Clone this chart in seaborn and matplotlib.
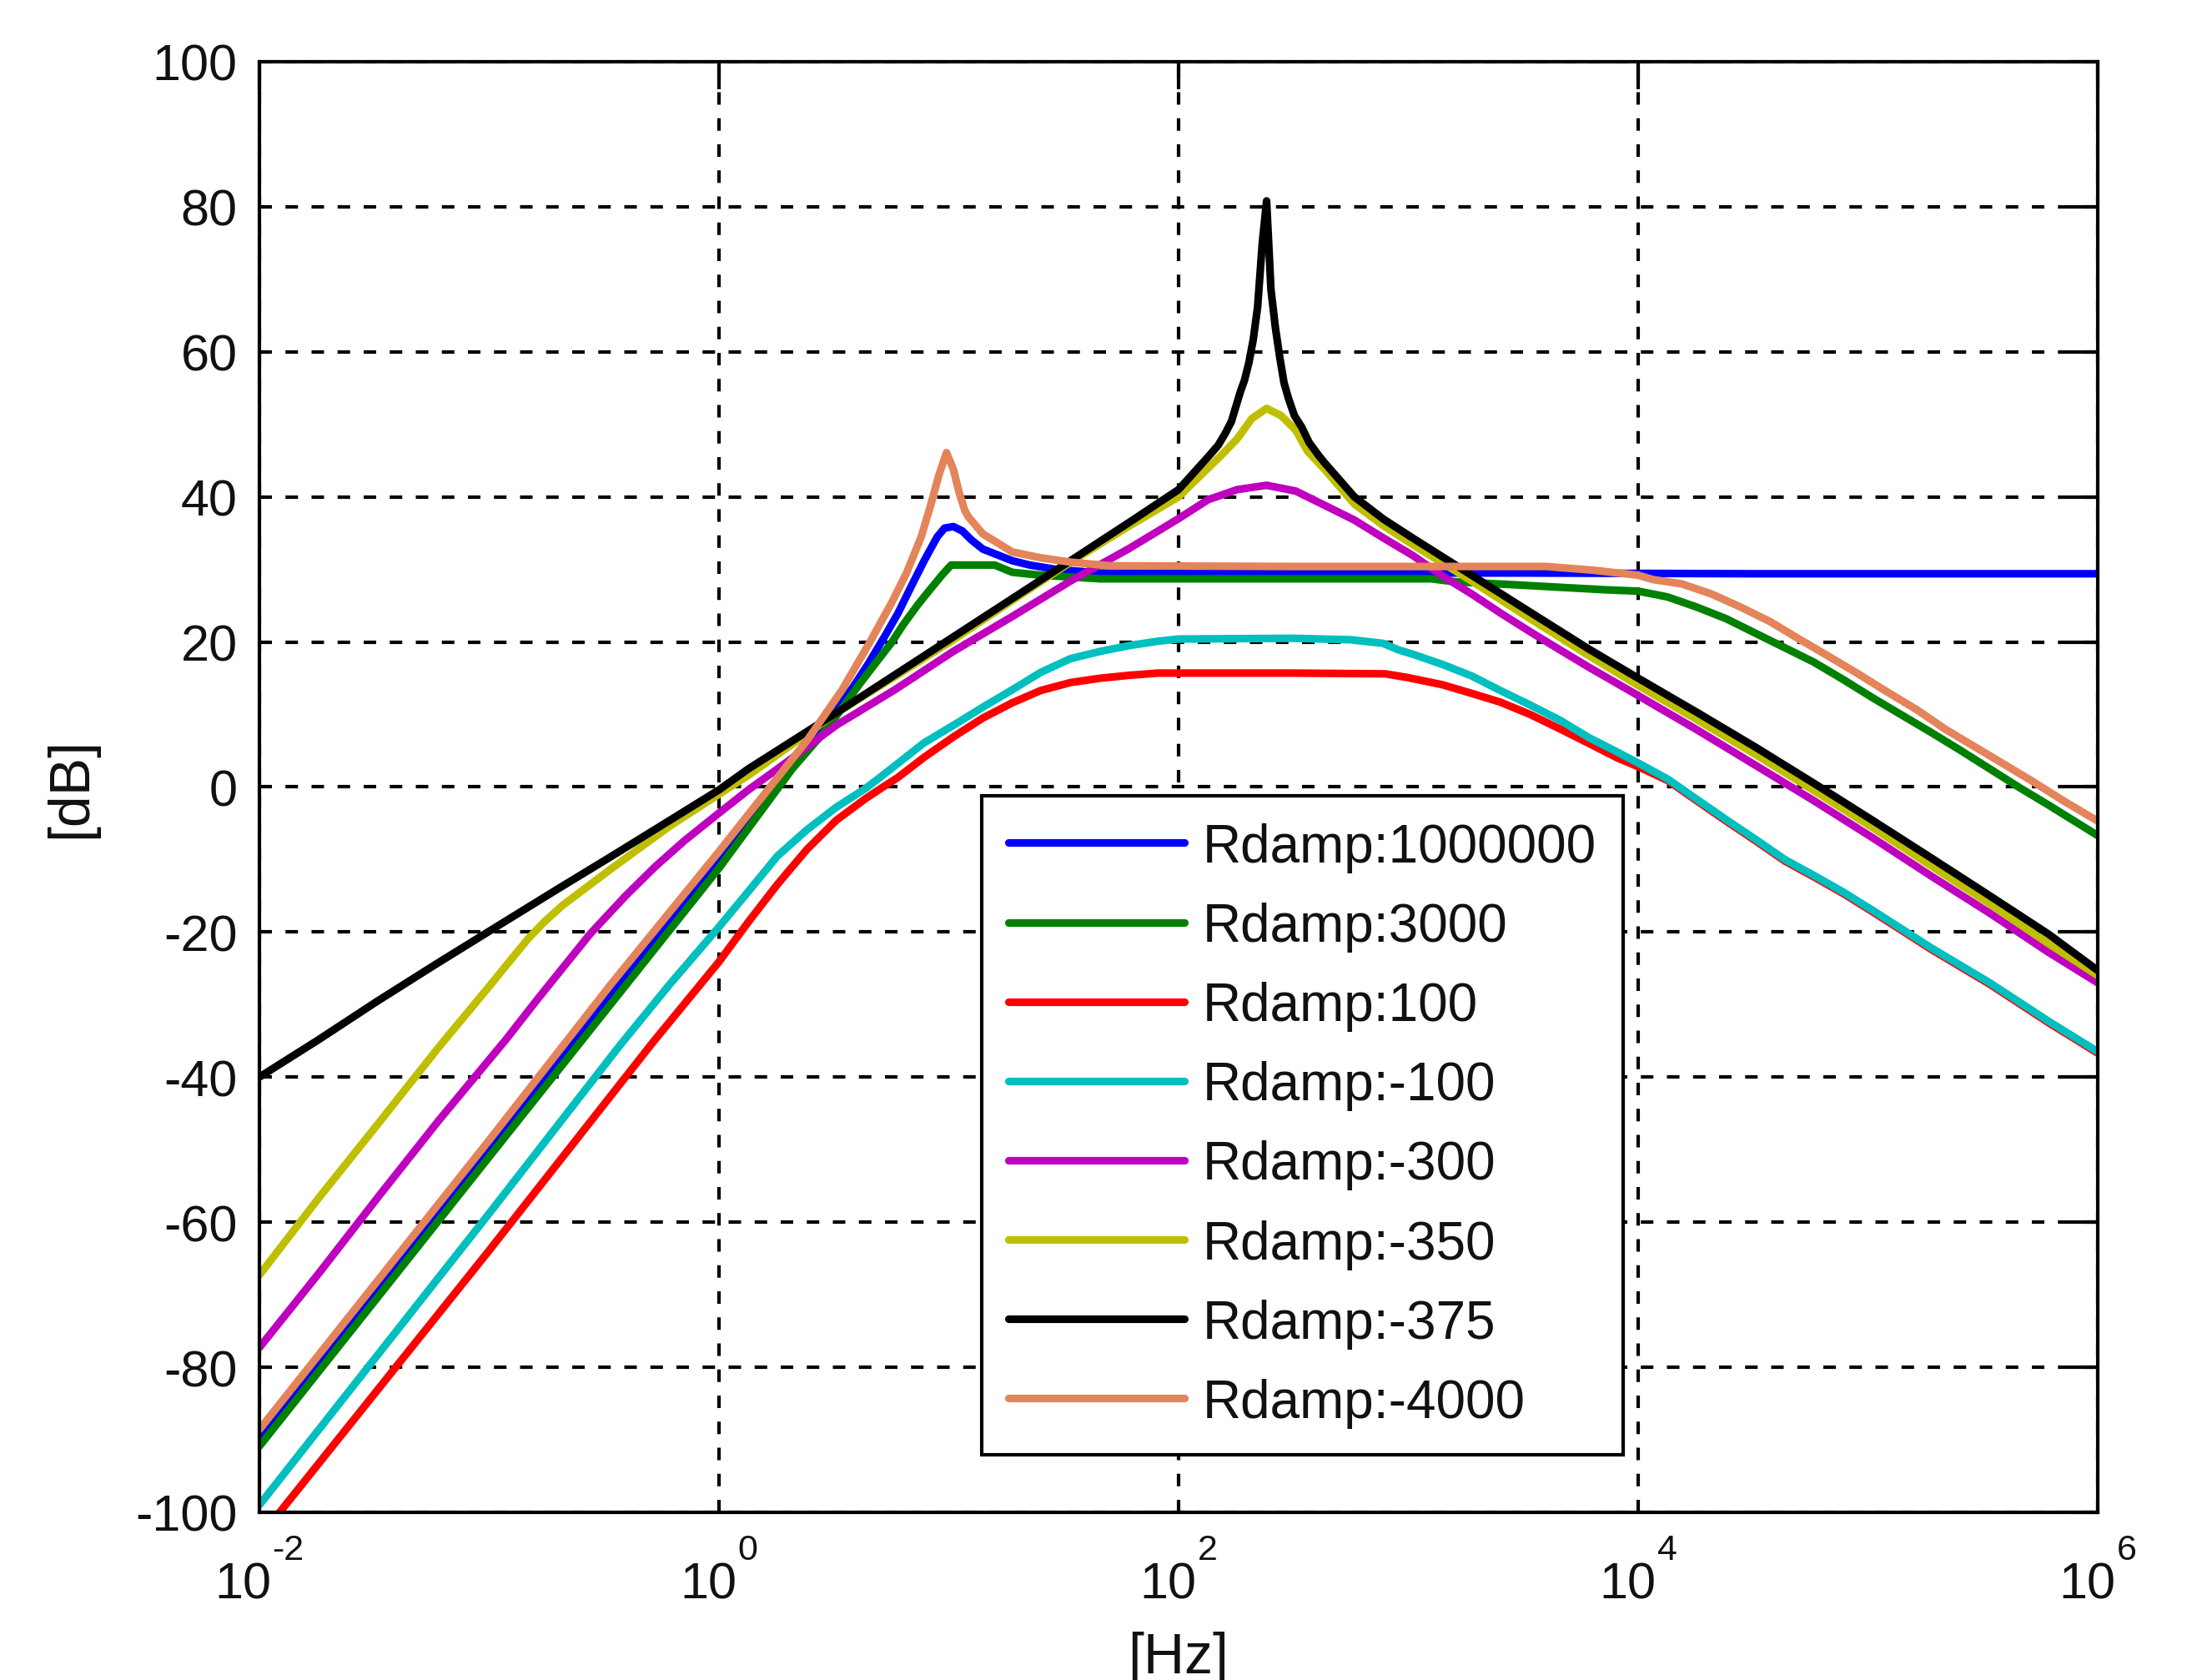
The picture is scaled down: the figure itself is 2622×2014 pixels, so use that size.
import numpy as np
import pandas as pd
import matplotlib
matplotlib.use("Agg")
import matplotlib.pyplot as plt
import matplotlib.ticker as mticker
import seaborn as sns

# ---------------- data ----------------
labels = ["Rdamp:1000000", "Rdamp:3000", "Rdamp:100", "Rdamp:-100",
          "Rdamp:-300", "Rdamp:-350", "Rdamp:-375", "Rdamp:-4000"]
colors = ["#0000FF", "#008000", "#FF0000", "#00BFBF",
          "#BF00BF", "#BFBF00", "#000000", "#E3845A"]

# log10(frequency / Hz) and magnitude in dB for each curve
r1e6_logf = [-2, -1, 0, 0.255, 0.523, 0.58, 0.65, 0.72, 0.778, 0.842, 0.893, 0.95,
             0.982, 1.02, 1.059, 1.097, 1.148, 1.212, 1.276, 1.352, 1.467, 1.658,
             2.5, 3.5, 4.5, 6]
r1e6_db = [-89.8, -49.9, -10.0, 0.3, 11.4, 13.6, 17.0, 20.7, 23.9, 28.0, 31.2, 34.5,
           35.7, 35.9, 35.3, 34.1, 32.8, 32.0, 31.2, 30.6, 30.0, 29.5,
           29.5, 29.5, 29.4, 29.4]

r3000_logf = [-2, -1, 0, 0.319, 0.472, 0.612, 0.753, 0.80, 0.867, 0.918, 0.97, 1.01,
              1.2, 1.276, 1.40, 1.66, 3.1, 3.2, 3.45, 3.85, 4.0, 4.128, 4.255, 4.383,
              4.51, 4.638, 4.765, 4.893, 5.02, 5.148, 5.276, 5.40, 5.53, 5.66, 5.786, 6.0]
r3000_db = [-90.9, -51.0, -11.2, 2.5, 8.1, 14.2, 20.0, 22.3, 25.2, 27.2, 29.2, 30.6,
            30.6, 29.6, 29.2, 28.7, 28.7, 28.3, 27.9, 27.2, 27.0, 26.2, 24.8, 23.2,
            21.2, 19.2, 17.2, 14.8, 12.3, 9.9, 7.5, 5.1, 2.5, -0.1, -2.5, -6.7]

r100_logf = [-2, -1, -0.29, 0, 0.128, 0.255, 0.383, 0.51, 0.638, 0.714, 0.778, 0.893,
             1.02, 1.148, 1.276, 1.40, 1.53, 1.66, 1.786, 1.91, 2.5, 2.9, 2.995, 3.148,
             3.276, 3.40, 3.53, 3.66, 3.786, 3.91, 4.0, 4.128, 4.255, 4.383, 4.51, 4.638,
             4.765, 4.893, 5.02, 5.276, 5.53, 5.786, 6.0]
r100_db = [-103.5, -63.9, -35.3, -24.1, -18.6, -13.4, -8.6, -4.6, -1.6, 0.0, 1.3, 4.1,
           6.9, 9.5, 11.6, 13.3, 14.4, 15.0, 15.4, 15.7, 15.7, 15.6, 15.1, 14.1,
           12.9, 11.7, 10.0, 8.0, 6.0, 4.0, 2.8, 0.9, -1.9, -4.7, -7.4, -10.2,
           -12.4, -14.7, -17.2, -22.4, -27.2, -32.5, -36.7]

rm100_logf = [-2, -1, -0.433, -0.214, 0, 0.128, 0.255, 0.383, 0.51, 0.638, 0.70, 0.893,
              1.02, 1.148, 1.276, 1.40, 1.53, 1.66, 1.786, 1.91, 2.0, 2.5, 2.75, 2.89,
              2.957, 3.02, 3.148, 3.276, 3.40, 3.53, 3.66, 3.786, 3.91, 4.0, 4.128,
              4.255, 4.383, 4.51, 4.638, 4.765, 4.893, 5.02, 5.276, 5.53, 5.786, 6.0]
rm100_db = [-99.0, -58.8, -35.7, -27.2, -19.3, -14.4, -9.5, -5.9, -2.8, -0.2, 1.3, 6.1,
            8.5, 11.0, 13.4, 15.8, 17.7, 18.7, 19.5, 20.1, 20.4, 20.5, 20.3, 19.8,
            18.9, 18.3, 16.9, 15.3, 13.3, 11.3, 9.2, 6.8, 4.8, 3.3, 1.1,
            -1.7, -4.5, -7.2, -10.0, -12.2, -14.5, -17.0, -22.2, -27.0, -32.3, -36.5]

rm300_logf = [-2, -1.74, -1.48, -1.22, -0.929, -0.788, -0.661, -0.559, -0.406, -0.278,
              -0.15, 0, 0.128, 0.255, 0.51, 0.765, 1.02, 1.276, 1.53, 1.786, 2.0, 2.128,
              2.255, 2.383, 2.51, 2.638, 2.765, 2.893, 3.02, 3.148, 3.276, 3.40, 3.53,
              3.66, 3.786, 4.0, 4.255, 4.51, 4.765, 5.02, 5.276, 5.53, 5.786, 6.0]
rm300_db = [-77.3, -67.0, -56.4, -46.0, -34.9, -29.2, -24.2, -20.2, -15.0, -11.0,
            -7.4, -3.6, -0.4, 2.5, 8.5, 13.4, 18.7, 23.5, 28.4, 32.9, 37.0, 39.6,
            41.0, 41.6, 40.8, 38.8, 36.8, 34.3, 31.9, 29.1, 26.6, 24.0, 21.4,
            18.9, 16.5, 12.6, 7.9, 3.0, -1.9, -7.0, -12.3, -17.4, -22.8, -27.0]

rm350_logf = [-2, -1.74, -1.48, -1.22, -1.0, -0.9, -0.83, -0.76, -0.68, -0.6, -0.47,
              -0.34, -0.214, 0, 0.128, 0.51, 0.765, 1.02, 1.276, 1.53, 1.786, 2.0, 2.191,
              2.255, 2.319, 2.383, 2.446, 2.51, 2.561, 2.638, 2.765, 2.893, 3.02, 3.25,
              3.53, 3.786, 4.0, 4.255, 4.51, 4.765, 5.02, 5.276, 5.53, 5.786, 6.0]
rm350_db = [-67.3, -56.6, -46.3, -35.9, -27.5, -23.6, -20.9, -18.6, -16.3, -14.4, -11.3,
            -8.3, -5.4, -1.0, 1.6, 10.2, 15.2, 20.3, 25.7, 31.0, 36.0, 40.0, 45.9,
            48.0, 50.8, 52.2, 51.2, 49.2, 46.3, 43.7, 39.0, 36.0, 33.4, 28.9,
            23.2, 18.1, 14.0, 9.3, 4.5, -0.5, -5.6, -10.9, -16.1, -21.6, -26.0]

rm375_logf = [-2, -1.745, -1.49, -1.235, -0.98, -0.724, -0.47, -0.214, 0, 0.128, 0.51,
              1.02, 1.53, 1.786, 2.0, 2.128, 2.172, 2.204, 2.23, 2.249, 2.268, 2.287,
              2.306, 2.325, 2.344, 2.364, 2.383, 2.402, 2.421, 2.44, 2.459, 2.478,
              2.504, 2.536, 2.568, 2.612, 2.638, 2.765, 2.893, 3.02, 3.25, 3.53, 3.786,
              4.0, 4.255, 4.51, 4.765, 5.02, 5.276, 5.53, 5.786, 6.0]
rm375_db = [-40.0, -34.9, -29.6, -24.5, -19.5, -14.5, -9.6, -4.6, -0.4, 2.5, 10.2,
            20.7, 31.2, 36.5, 41.0, 45.5, 47.1, 48.8, 50.4, 52.4, 54.4, 56.1,
            58.5, 61.7, 66.2, 74.9, 80.8, 68.6, 63.4, 59.3, 55.7, 53.6,
            51.2, 49.6, 47.5, 45.6, 44.6, 40.0, 36.9, 34.3, 29.7, 24.1, 19.0,
            15.0, 10.3, 5.5, 0.5, -4.6, -9.8, -15.0, -20.3, -25.3]

rm4000_logf = [-2, -1, -0.47, 0, 0.255, 0.383, 0.536, 0.65, 0.753, 0.816, 0.88, 0.918,
               0.957, 0.99, 1.02, 1.046, 1.07, 1.084, 1.148, 1.21, 1.276, 1.40, 1.53,
               1.7, 2.5, 3.6, 3.8, 4.0, 4.064, 4.19, 4.32, 4.446, 4.574, 4.70, 4.83,
               4.957, 5.084, 5.21, 5.34, 5.467, 5.594, 5.72, 5.85, 6.0]
rm4000_db = [-88.6, -48.7, -27.2, -8.9, 1.3, 6.4, 13.4, 19.6, 25.5, 29.5, 34.5, 38.5,
             43.0, 46.1, 43.8, 40.5, 38.1, 37.3, 34.9, 33.7, 32.4, 31.6, 31.0,
             30.5, 30.4, 30.4, 29.9, 29.2, 28.6, 28.0, 26.6, 24.8, 22.8, 20.4, 18.0,
             15.6, 13.1, 10.7, 7.9, 5.5, 3.1, 0.7, -1.9, -4.7]

logf_list = [r1e6_logf, r3000_logf, r100_logf, rm100_logf,
             rm300_logf, rm350_logf, rm375_logf, rm4000_logf]
db_list = [r1e6_db, r3000_db, r100_db, rm100_db,
           rm300_db, rm350_db, rm375_db, rm4000_db]

y_ticks = [-100, -80, -60, -40, -20, 0, 20, 40, 60, 80, 100]
x_ticks = [1e-2, 1e0, 1e2, 1e4, 1e6]
x_tick_base = "10"
x_tick_exponents = ["-2", "0", "2", "4", "6"]

# ---------------- style ----------------
sns.set_theme(style="white")
plt.rcParams["font.family"] = ["Liberation Sans", "DejaVu Sans"]
plt.rcParams["axes.unicode_minus"] = False

TXT = "#111111"
fig = plt.figure(figsize=(13.11, 10.075), dpi=200)
fig.patch.set_facecolor("white")
ax = fig.add_axes([0.1186, 0.0998, 0.8406, 0.8630])
ax.set_facecolor("white")

frames = []
for lab, lf, db in zip(labels, logf_list, db_list):
    frames.append(pd.DataFrame({"Hz": np.power(10.0, np.asarray(lf, dtype=float)),
                                "dB": db, "series": lab}))
df = pd.concat(frames, ignore_index=True)

LW = 3.3
sns.lineplot(data=df, x="Hz", y="dB", hue="series", hue_order=labels,
             palette=dict(zip(labels, colors)), estimator=None, sort=False,
             linewidth=LW, ax=ax, legend=False)

ax.set_xscale("log")
ax.set_xlim(1e-2, 1e6)
ax.set_ylim(-100, 100)
ax.xaxis.set_major_locator(mticker.FixedLocator(x_ticks))
ax.xaxis.set_major_formatter(mticker.NullFormatter())
ax.xaxis.set_minor_locator(mticker.NullLocator())
ax.yaxis.set_major_locator(mticker.FixedLocator(y_ticks))
ax.yaxis.set_minor_locator(mticker.NullLocator())

ax.grid(True, which="major", color="black", linestyle=(0, (3.6, 3.9)), linewidth=1.5)
ax.set_axisbelow(True)

for sp in ax.spines.values():
    sp.set_visible(True)
    sp.set_color("black")
    sp.set_linewidth(1.5)

ax.tick_params(axis="both", which="major", direction="in", length=12, width=1.5,
               color="black", top=True, right=True, labelsize=22, labelcolor=TXT)
ax.tick_params(axis="y", pad=9.5)

ax.set_xlabel("[Hz]", fontsize=24.5, color=TXT)
ax.set_ylabel("[dB]", fontsize=24.5, color=TXT)
ax.xaxis.set_label_coords(0.5, -0.0817)
ax.yaxis.set_label_coords(-0.088, 0.5)

handles = ax.get_lines()[:len(labels)]
leg = ax.legend(handles, labels, loc="upper left", bbox_to_anchor=(0.393, 0.494),
                borderaxespad=0, fontsize=23, frameon=True, fancybox=False,
                edgecolor="black", facecolor="white", framealpha=1.0,
                handlelength=3.3, handletextpad=0.34, borderpad=0.5,
                labelspacing=0.55)
leg.get_frame().set_linewidth(1.5)
for t in leg.get_texts():
    t.set_color(TXT)

# MATLAB-style x tick labels: "10" with a small raised exponent
fig.canvas.draw()
renderer = fig.canvas.get_renderer()
BASE_Y = -103   # baseline of "10", pixels below the x axis
EXP_Y = -56     # baseline of the exponent
GAP = 1
for xt, ex in zip(x_ticks, x_tick_exponents):
    base = ax.annotate(x_tick_base, xy=(xt, 0), xycoords=("data", "axes fraction"),
                       xytext=(0, BASE_Y), textcoords="offset pixels", ha="left",
                       va="baseline", fontsize=22, color=TXT, annotation_clip=False)
    sup = ax.annotate(ex, xy=(xt, 0), xycoords=("data", "axes fraction"),
                      xytext=(0, EXP_Y), textcoords="offset pixels", ha="left",
                      va="baseline", fontsize=15.5, color=TXT, annotation_clip=False)
    wb = base.get_window_extent(renderer).width
    ws = sup.get_window_extent(renderer).width
    total = wb + GAP + ws
    base.xyann = (-total / 2.0, BASE_Y)
    sup.xyann = (-total / 2.0 + wb + GAP, EXP_Y)

fig.savefig("out.png", dpi=200, facecolor="white")
